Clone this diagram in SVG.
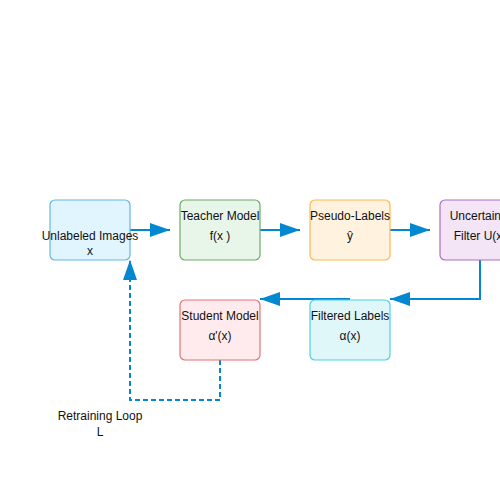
<svg xmlns="http://www.w3.org/2000/svg" width="500" height="500" viewBox="0 0 500 500">
<style>
text{font-family:"Liberation Sans",Arial,sans-serif;font-size:12px;fill:#111;text-anchor:middle}
.n{stroke-width:1.2}
.c{fill:none;stroke:#0288d1;stroke-width:2}
.d{stroke-dasharray:5,3}
</style>
<defs>
<marker id="ah" markerWidth="10" markerHeight="7" refX="10" refY="3.5" orient="auto" markerUnits="strokeWidth"><polygon points="0 0,10 3.5,0 7" fill="#0288d1"/></marker>
</defs>
<rect width="500" height="500" fill="#fff"/>
<g id="connectors">
<line class="c" x1="130" y1="230" x2="170" y2="230" marker-end="url(#ah)"/>
<line class="c" x1="260" y1="230" x2="300" y2="230" marker-end="url(#ah)"/>
<line class="c" x1="390" y1="230" x2="430" y2="230" marker-end="url(#ah)"/>
<polyline class="c" points="480,260 480,299 390,299" marker-end="url(#ah)"/>
<line class="c" x1="350" y1="299" x2="260" y2="299" marker-end="url(#ah)"/>
<polyline class="c d" points="220,360 220,400 130,400 130,260" marker-end="url(#ah)"/>
</g>
<g id="unlabeled"><rect class="n" x="50" y="200" width="80" height="60" rx="5" fill="#e1f5fe" stroke="#64b5e8"/><text x="90" y="240">Unlabeled Images</text><text x="90" y="255">x</text></g>
<g id="teacher"><rect class="n" x="180" y="200" width="80" height="60" rx="5" fill="#e8f5e9" stroke="#6aab6a"/><text x="220" y="220">Teacher Model</text><text x="220" y="240">f(x )</text></g>
<g id="pseudo"><rect class="n" x="310" y="200" width="80" height="60" rx="5" fill="#fff3e0" stroke="#ffb74d"/><text x="350" y="220">Pseudo-Labels</text><text x="350" y="240">ŷ</text></g>
<g id="uncertainty"><rect class="n" x="440" y="200" width="80" height="60" rx="5" fill="#f3e5f5" stroke="#ab6fc7"/><text x="480" y="220">Uncertainty</text><text x="480" y="240">Filter U(x)</text></g>
<g id="student"><rect class="n" x="180" y="300" width="80" height="60" rx="5" fill="#ffebee" stroke="#e57373"/><text x="220" y="320">Student Model</text><text x="220" y="340">α'(x)</text></g>
<g id="filtered"><rect class="n" x="310" y="300" width="80" height="60" rx="5" fill="#e0f7fa" stroke="#4dd0e1"/><text x="350" y="320">Filtered Labels</text><text x="350" y="340">α(x)</text></g>
<g id="loop-label"><text x="100" y="420">Retraining Loop</text><text x="100" y="436">L</text></g>
</svg>
